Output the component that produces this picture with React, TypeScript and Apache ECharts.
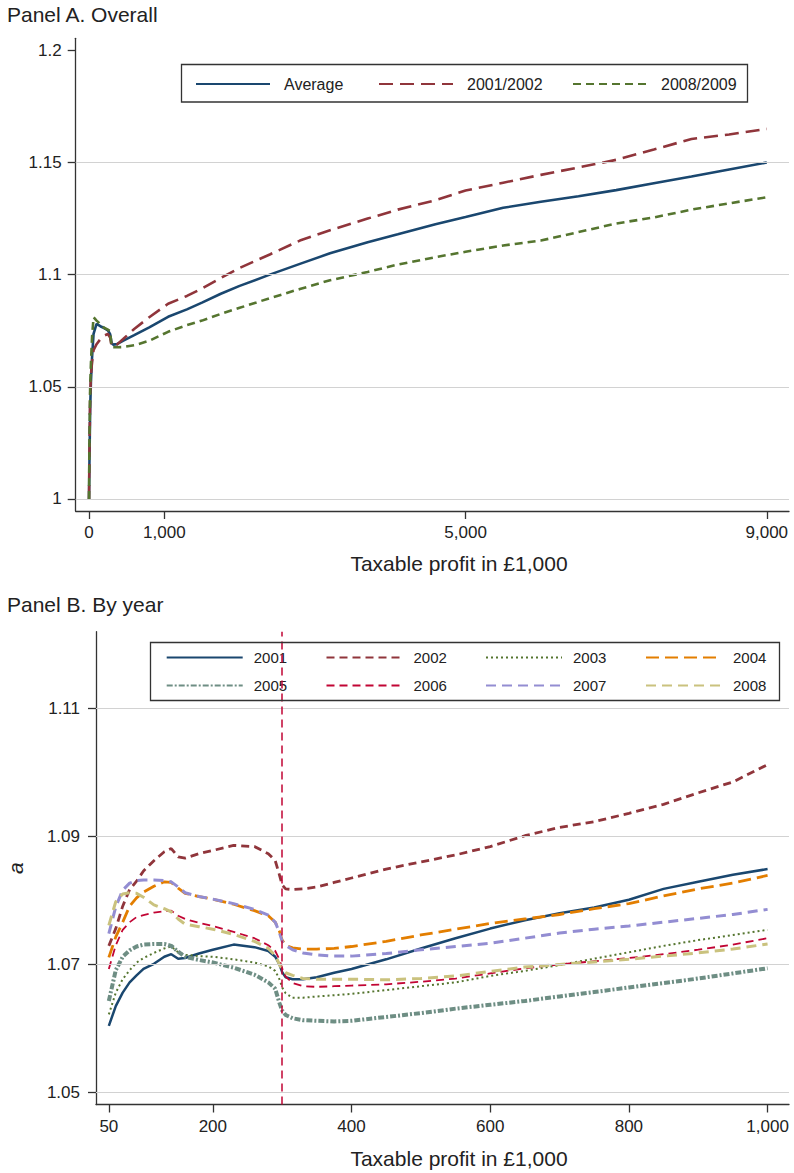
import React, { useEffect, useRef } from "react";
import * as echarts from "echarts";

// ---------- Panel A data ----------
const panelAX = [0, 5, 15, 25, 40, 60, 100, 150, 200, 250, 280, 300, 320, 370, 450, 600, 800, 1050, 1300, 1500, 1750, 2000, 2400, 2800, 3200, 3700, 4100, 4600, 5000, 5500, 6000, 6500, 7000, 7500, 8000, 8500, 9000];
const avgA = [1.0, 1.015, 1.04, 1.052, 1.063, 1.0736, 1.078, 1.077, 1.0762, 1.0752, 1.0735, 1.0695, 1.0688, 1.069, 1.0705, 1.073, 1.0765, 1.0812, 1.0845, 1.0875, 1.0915, 1.095, 1.1, 1.1048, 1.1095, 1.1145, 1.118, 1.1225, 1.1257, 1.1298, 1.1325, 1.135, 1.1377, 1.1408, 1.1438, 1.1469, 1.15];
const y0102 = [1.0, 1.02, 1.046, 1.055, 1.061, 1.0663, 1.069, 1.0712, 1.0728, 1.0735, 1.072, 1.0682, 1.068, 1.0688, 1.0712, 1.0758, 1.081, 1.087, 1.0905, 1.0938, 1.0985, 1.103, 1.109, 1.1152, 1.1198, 1.125, 1.129, 1.1332, 1.1375, 1.141, 1.1445, 1.1478, 1.1512, 1.1558, 1.1605, 1.1625, 1.165];
const y0809 = [1.0, 1.025, 1.05, 1.06, 1.072, 1.081, 1.0795, 1.078, 1.0763, 1.0755, 1.0748, 1.0678, 1.0676, 1.0676, 1.0677, 1.0685, 1.0705, 1.0745, 1.0775, 1.0795, 1.0825, 1.0852, 1.0895, 1.0936, 1.0975, 1.1012, 1.1045, 1.1078, 1.1102, 1.113, 1.1152, 1.119, 1.1228, 1.1255, 1.129, 1.1318, 1.1345];
const panelAXTicks = [0, 1000, 5000, 9000];
const panelAYTicks = [1, 1.05, 1.1, 1.15, 1.2];
const panelAGrid = [1, 1.05, 1.1, 1.15];

// ---------- Panel B data ----------
const panelBX = [50, 60, 70, 80, 90, 100, 115, 130, 140, 150, 160, 180, 200, 230, 260, 280, 290, 296, 300, 305, 315, 330, 350, 375, 400, 450, 500, 550, 600, 650, 700, 750, 800, 850, 900, 950, 1000];
const y2001 = [1.0604, 1.0635, 1.0656, 1.0672, 1.0683, 1.0693, 1.0701, 1.0712, 1.0716, 1.0709, 1.071, 1.0717, 1.0723, 1.0731, 1.0727, 1.0721, 1.0712, 1.07, 1.0688, 1.068, 1.0677, 1.0677, 1.068, 1.0687, 1.0693, 1.0708, 1.0725, 1.0741, 1.0756, 1.0769, 1.078, 1.0789, 1.0801, 1.0818, 1.0829, 1.084, 1.0849];
const y2002 = [1.0729, 1.0756, 1.0791, 1.0817, 1.083, 1.0846, 1.0862, 1.0876, 1.0881, 1.0868, 1.0866, 1.0873, 1.0878, 1.0886, 1.0884, 1.0873, 1.0862, 1.084, 1.0824, 1.0818, 1.0817, 1.0818, 1.0821, 1.0828, 1.0835, 1.0849, 1.086, 1.0871, 1.0884, 1.0901, 1.0914, 1.0923, 1.0936, 1.095, 1.0968, 1.0985, 1.1012];
const y2003 = [1.0622, 1.0656, 1.0677, 1.0691, 1.0703, 1.071, 1.0718, 1.0725, 1.0728, 1.0719, 1.0715, 1.0713, 1.0712, 1.0708, 1.0703, 1.0697, 1.069, 1.0677, 1.0664, 1.0655, 1.0648, 1.0648, 1.065, 1.0652, 1.0654, 1.066, 1.0666, 1.0672, 1.0682, 1.069, 1.0699, 1.0709, 1.0719, 1.0729, 1.0738, 1.0746, 1.0754];
const y2004 = [1.0711, 1.0743, 1.0766, 1.0791, 1.0804, 1.0813, 1.0822, 1.0829, 1.0828, 1.0819, 1.0811, 1.0806, 1.0802, 1.0794, 1.0784, 1.0776, 1.0766, 1.0752, 1.0738, 1.073, 1.0726, 1.0724, 1.0724, 1.0725, 1.0728, 1.0736, 1.0746, 1.0755, 1.0764, 1.0771, 1.0778, 1.0787, 1.0795, 1.0807, 1.0818, 1.0827, 1.0839];
const y2005 = [1.0643, 1.0691, 1.0712, 1.0722, 1.0728, 1.0731, 1.0732, 1.0732, 1.0729, 1.072, 1.0712, 1.0707, 1.0703, 1.0695, 1.0684, 1.0672, 1.0662, 1.064, 1.0628, 1.0621, 1.0616, 1.0613, 1.0612, 1.0611, 1.0612, 1.0618, 1.0624, 1.0631, 1.0637, 1.0643, 1.065, 1.0657, 1.0664, 1.0671, 1.0678, 1.0686, 1.0694];
const y2006 = [1.0693, 1.073, 1.0754, 1.0766, 1.0774, 1.0777, 1.0781, 1.0783, 1.0784, 1.0776, 1.0771, 1.0765, 1.076, 1.0751, 1.0741, 1.073, 1.0721, 1.0708, 1.0694, 1.0681, 1.0671, 1.0666, 1.0665, 1.0666, 1.0667, 1.0669, 1.0673, 1.0678, 1.0686, 1.0694, 1.07, 1.0705, 1.071, 1.0716, 1.0723, 1.0731, 1.0741];
const y2007 = [1.0748, 1.079, 1.0816, 1.0827, 1.0831, 1.0832, 1.0832, 1.0831, 1.0829, 1.0821, 1.0812, 1.0806, 1.0802, 1.0795, 1.0786, 1.0777, 1.0766, 1.075, 1.0736, 1.073, 1.0723, 1.0718, 1.0715, 1.0713, 1.0713, 1.0717, 1.0723, 1.0728, 1.0733, 1.0741, 1.0749, 1.0755, 1.076, 1.0766, 1.0772, 1.0778, 1.0786];
const y2008 = [1.0761, 1.0798, 1.081, 1.0812, 1.0811, 1.0805, 1.0793, 1.0787, 1.0782, 1.0771, 1.0763, 1.0759, 1.0755, 1.0747, 1.0736, 1.0725, 1.0714, 1.07, 1.0692, 1.0687, 1.0683, 1.0678, 1.0677, 1.0677, 1.0677, 1.0676, 1.0678, 1.0682, 1.0689, 1.0696, 1.07, 1.0704, 1.0708, 1.0713, 1.0718, 1.0724, 1.0732];
const panelBXTicks = [50, 200, 400, 600, 800, 1000];
const panelBYTicks = [1.05, 1.07, 1.09, 1.11];
const panelBGrid = [1.05, 1.07, 1.09, 1.11];
const cutoffB = 300;

const FONT = "'Liberation Sans', Arial, Helvetica, sans-serif";
const TXT = "#222";
const AX = "#333";

const pairs = (xs: number[], ys: number[]) => xs.map((x, i) => [x, ys[i]]);
const fmtX = (v: number) => Number(v).toLocaleString("en-US");
const fmtY = (v: number) => String(Math.round(v * 100) / 100);

export default function App() {
  const ref = useRef<HTMLDivElement>(null);
  useEffect(() => {
    if (!ref.current) return;
    const chart = echarts.init(ref.current, null, { renderer: "svg" });

    const axisCommon = {
      type: "value" as const,
      axisLine: { show: true, onZero: false, lineStyle: { color: AX, width: 1.3 } },
      splitLine: { show: false },
    };

    const lineSeries = (
      name: string, xi: number, data: number[][], color: string, width: number, type: any
    ) => ({
      name, type: "line", xAxisIndex: xi, yAxisIndex: xi, data, showSymbol: false, symbol: "none",
      z: 3, lineStyle: { color, width, type, cap: "butt" }, itemStyle: { color }, silent: true,
    });

    const gridLineSeries = (xi: number, vals: number[]) => ({
      type: "line", xAxisIndex: xi, yAxisIndex: xi, data: [], z: 1, silent: true,
      markLine: {
        silent: true, symbol: "none", label: { show: false },
        lineStyle: { color: "#d2d2d2", width: 1, type: "solid" },
        data: vals.map((v) => ({ yAxis: v })),
      },
    });

    const legendItem = (name: string, left: number, cy: number, fs: number, w: number, pad: number) => ({
      data: [name], left, top: cy - 7, padding: 0, itemWidth: w, itemHeight: 14,
      selectedMode: false,
      itemStyle: { opacity: 0, borderWidth: 0 },
      textStyle: { fontFamily: FONT, fontSize: fs, color: TXT, padding: [0, 0, 0, pad] },
    });

    const option: any = {
      animation: false,
      backgroundColor: "#fff",
      textStyle: { fontFamily: FONT },
      grid: [
        { left: 75.7, top: 38.3, width: 789 - 75.7, height: 511 - 38.3, containLabel: false, outerBoundsMode: "none" },
        { left: 96, top: 631.7, width: 789 - 96, height: 1104.5 - 631.7, containLabel: false, outerBoundsMode: "none" },
      ],
      xAxis: [
        {
          ...axisCommon, gridIndex: 0, min: -177, max: 9295,
          axisTick: { show: true, length: 8, customValues: panelAXTicks, lineStyle: { color: AX, width: 1.3 } },
          axisLabel: { customValues: panelAXTicks, formatter: fmtX, margin: 13, fontSize: 17, color: TXT, fontFamily: FONT },
        },
        {
          ...axisCommon, gridIndex: 1, min: 31.5, max: 1030.9,
          axisTick: { show: true, length: 8, customValues: panelBXTicks, lineStyle: { color: AX, width: 1.3 } },
          axisLabel: { customValues: panelBXTicks, formatter: fmtX, margin: 13, fontSize: 17, color: TXT, fontFamily: FONT },
        },
      ],
      yAxis: [
        {
          ...axisCommon, gridIndex: 0, min: 0.9946, max: 1.2054,
          axisTick: { show: true, length: 8, customValues: panelAYTicks, lineStyle: { color: AX, width: 1.3 } },
          axisLabel: { customValues: panelAYTicks, formatter: fmtY, margin: 14, fontSize: 17, color: TXT, fontFamily: FONT },
        },
        {
          ...axisCommon, gridIndex: 1, min: 1.04813, max: 1.12196,
          axisTick: { show: true, length: 8, customValues: panelBYTicks, lineStyle: { color: AX, width: 1.3 } },
          axisLabel: { customValues: panelBYTicks, formatter: fmtY, margin: 16, fontSize: 17, color: TXT, fontFamily: FONT },
          name: "a", nameLocation: "middle", nameGap: 70, nameRotate: 90,
          nameTextStyle: { fontSize: 21, color: TXT, fontFamily: FONT, fontStyle: "italic" },
        },
      ],
      legend: [
        legendItem("Average", 195, 83, 16, 74, 9),
        legendItem("2001/2002", 378, 83, 16, 74, 9),
        legendItem("2008/2009", 572, 83, 16, 74, 9),
        legendItem("2001", 165.7, 657, 15, 76, 6),
        legendItem("2002", 325.5, 657, 15, 76, 6),
        legendItem("2003", 485, 657, 15, 76, 6),
        legendItem("2004", 645, 657, 15, 76, 6),
        legendItem("2005", 165.7, 685, 15, 76, 6),
        legendItem("2006", 325.5, 685, 15, 76, 6),
        legendItem("2007", 485, 685, 15, 76, 6),
        legendItem("2008", 645, 685, 15, 76, 6),
      ],
      graphic: [
        { type: "text", left: 7, top: 4, style: { text: "Panel A. Overall", fontSize: 21, fontFamily: FONT, fill: TXT } },
        { type: "text", left: 7, top: 594, style: { text: "Panel B. By year", fontSize: 21, fontFamily: FONT, fill: TXT } },
        { type: "text", x: 459, y: 563, style: { text: "Taxable profit in £1,000", fontSize: 21, fontFamily: FONT, fill: TXT, align: "center", verticalAlign: "middle" } },
        { type: "text", x: 459, y: 1158, style: { text: "Taxable profit in £1,000", fontSize: 21, fontFamily: FONT, fill: TXT, align: "center", verticalAlign: "middle" } },
        { type: "rect", shape: { x: 181.5, y: 64.5, width: 566, height: 37.5 }, style: { fill: "none", stroke: "#333", lineWidth: 1.3 }, z: 10 },
        { type: "rect", shape: { x: 150.5, y: 642.5, width: 629, height: 58 }, style: { fill: "none", stroke: "#333", lineWidth: 1.3 }, z: 10 },
      ],
      series: [
        gridLineSeries(0, panelAGrid),
        gridLineSeries(1, panelBGrid),
        lineSeries("Average", 0, pairs(panelAX, avgA), "#1a476f", 2.6, "solid"),
        lineSeries("2001/2002", 0, pairs(panelAX, y0102), "#90353b", 2.6, [14, 7]),
        lineSeries("2008/2009", 0, pairs(panelAX, y0809), "#55752f", 2.6, [8, 5]),
        lineSeries("2001", 1, pairs(panelBX, y2001), "#1a476f", 2.5, "solid"),
        lineSeries("2002", 1, pairs(panelBX, y2002), "#90353b", 2.8, [8, 5]),
        lineSeries("2003", 1, pairs(panelBX, y2003), "#55752f", 2, [2, 3]),
        lineSeries("2004", 1, pairs(panelBX, y2004), "#e37e00", 2.8, [13, 6]),
        lineSeries("2005", 1, pairs(panelBX, y2005), "#6e8e84", 4, [6, 2, 2, 2]),
        lineSeries("2006", 1, pairs(panelBX, y2006), "#c10534", 1.8, [8, 5]),
        lineSeries("2007", 1, pairs(panelBX, y2007), "#938dd2", 3, [10, 6]),
        lineSeries("2008", 1, pairs(panelBX, y2008), "#cac27e", 3, [10, 6]),
        {
          type: "line", xAxisIndex: 1, yAxisIndex: 1, data: [], z: 4, silent: true,
          markLine: {
            silent: true, symbol: "none", label: { show: false },
            lineStyle: { color: "#c10534", width: 1.5, type: [8, 5] },
            data: [{ xAxis: cutoffB }],
          },
        },
      ],
    };
    chart.setOption(option);
    return () => chart.dispose();
  }, []);
  return (
    <div
      ref={ref}
      style={{ position: "absolute", left: 0, top: 0, width: 794, height: 1173, background: "#fff" }}
    />
  );
}
